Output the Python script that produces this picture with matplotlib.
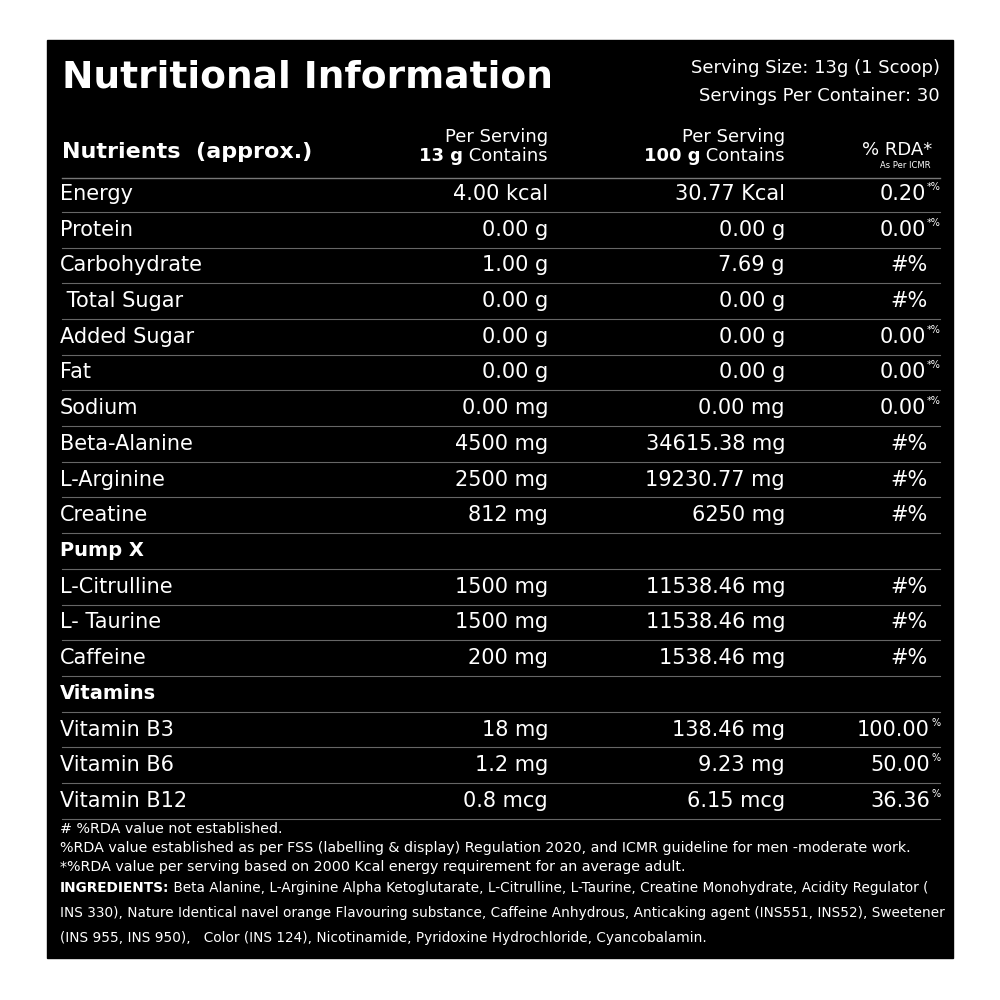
import matplotlib.pyplot as plt
from matplotlib.patches import Rectangle

plt.rcParams['font.family'] = ['Liberation Sans Narrow', 'DejaVu Sans']

nutrients = ["Energy", "Protein", "Carbohydrate", " Total Sugar", "Added Sugar", "Fat", "Sodium",
             "Beta-Alanine", "L-Arginine", "Creatine", "Pump X", "L-Citrulline", "L- Taurine",
             "Caffeine", "Vitamins", "Vitamin B3", "Vitamin B6", "Vitamin B12"]
per_serving = ["4.00 kcal", "0.00 g", "1.00 g", "0.00 g", "0.00 g", "0.00 g", "0.00 mg",
               "4500 mg", "2500 mg", "812 mg", "", "1500 mg", "1500 mg", "200 mg", "",
               "18 mg", "1.2 mg", "0.8 mcg"]
per_100g = ["30.77 Kcal", "0.00 g", "7.69 g", "0.00 g", "0.00 g", "0.00 g", "0.00 mg",
            "34615.38 mg", "19230.77 mg", "6250 mg", "", "11538.46 mg", "11538.46 mg",
            "1538.46 mg", "", "138.46 mg", "9.23 mg", "6.15 mcg"]
rda = ["0.20", "0.00", "#%", "#%", "0.00", "0.00", "0.00", "#%", "#%", "#%", "", "#%", "#%",
       "#%", "", "100.00", "50.00", "36.36"]
rda_sup = ["*%", "*%", "", "", "*%", "*%", "*%", "", "", "", "", "", "", "", "", "%", "%", "%"]
sections = ["Pump X", "Vitamins"]

footnotes = [
    "# %RDA value not established.",
    "%RDA value established as per FSS (labelling & display) Regulation 2020, and ICMR guideline for men -moderate work.",
    "*%RDA value per serving based on 2000 Kcal energy requirement for an average adult.",
]
ingredients = [
    ("INGREDIENTS:", " Beta Alanine, L-Arginine Alpha Ketoglutarate, L-Citrulline, L-Taurine, Creatine Monohydrate, Acidity Regulator ("),
    ("", "INS 330), Nature Identical navel orange Flavouring substance, Caffeine Anhydrous, Anticaking agent (INS551, INS52), Sweetener"),
    ("", "(INS 955, INS 950),   Color (INS 124), Nicotinamide, Pyridoxine Hydrochloride, Cyancobalamin."),
]

fig = plt.figure(figsize=(10, 10), dpi=100)
ax = fig.add_axes([0, 0, 1, 1])
ax.set_xlim(0, 1000)
ax.set_ylim(1000, 0)
ax.axis('off')
ax.add_patch(Rectangle((47, 40), 906, 918, color='black'))

W = 'white'


def width(t):
    fig.canvas.draw()
    bb = t.get_window_extent().transformed(ax.transData.inverted())
    return bb.x0, bb.x1


ax.text(62, 78, "Nutritional Information", color=W, fontsize=27, fontweight='bold', va='center')
ax.text(940, 68, "Serving Size: 13g (1 Scoop)", color=W, fontsize=13, ha='right', va='center')
ax.text(940, 96, "Servings Per Container: 30", color=W, fontsize=13, ha='right', va='center')

ax.text(62, 152, "Nutrients  (approx.)", color=W, fontsize=16, fontweight='bold', va='center')
for xr, g in [(548, "13 g"), (785, "100 g")]:
    ax.text(xr, 137, "Per Serving", color=W, fontsize=13, ha='right', va='center')
    t = ax.text(xr, 156, " Contains", color=W, fontsize=13, ha='right', va='center')
    x0, _ = width(t)
    ax.text(x0, 156, g, color=W, fontsize=13, fontweight='bold', ha='right', va='center')
ax.text(932, 150, "% RDA*", color=W, fontsize=13, ha='right', va='center')
ax.text(930, 166, "As Per ICMR", color=W, fontsize=6, ha='right', va='center')
ax.plot([62, 940], [178, 178], color='#777777', lw=1)

y0, dy = 194, 35.7
fs = 15
for i, name in enumerate(nutrients):
    y = y0 + i * dy
    bold = name in sections
    ax.text(60, y, name, color=W, fontsize=fs if not bold else 14,
            fontweight='bold' if bold else 'normal', va='center')
    ax.text(548, y, per_serving[i], color=W, fontsize=fs, ha='right', va='center')
    ax.text(785, y, per_100g[i], color=W, fontsize=fs, ha='right', va='center')
    if rda_sup[i]:
        xr = 926 if rda_sup[i] == "*%" else 930
        ax.text(xr, y, rda[i], color=W, fontsize=fs, ha='right', va='center')
        ax.text(xr + 1, y - 7, rda_sup[i], color=W, fontsize=7, ha='left', va='center')
    else:
        ax.text(928, y, rda[i], color=W, fontsize=fs, ha='right', va='center')
    ax.plot([62, 940], [y + dy / 2, y + dy / 2], color='#666666', lw=0.8)

for j, line in enumerate(footnotes):
    ax.text(60, 829 + j * 19, line, color=W, fontsize=10.3, va='center')
for j, (b, rest) in enumerate(ingredients):
    y = 888 + j * 25
    if b:
        t = ax.text(60, y, b, color=W, fontsize=9.8, fontweight='bold', va='center')
        _, x1 = width(t)
        ax.text(x1, y, rest, color=W, fontsize=9.8, va='center')
    else:
        ax.text(60, y, rest, color=W, fontsize=9.8, va='center')

fig.savefig("out.png", facecolor='white')
